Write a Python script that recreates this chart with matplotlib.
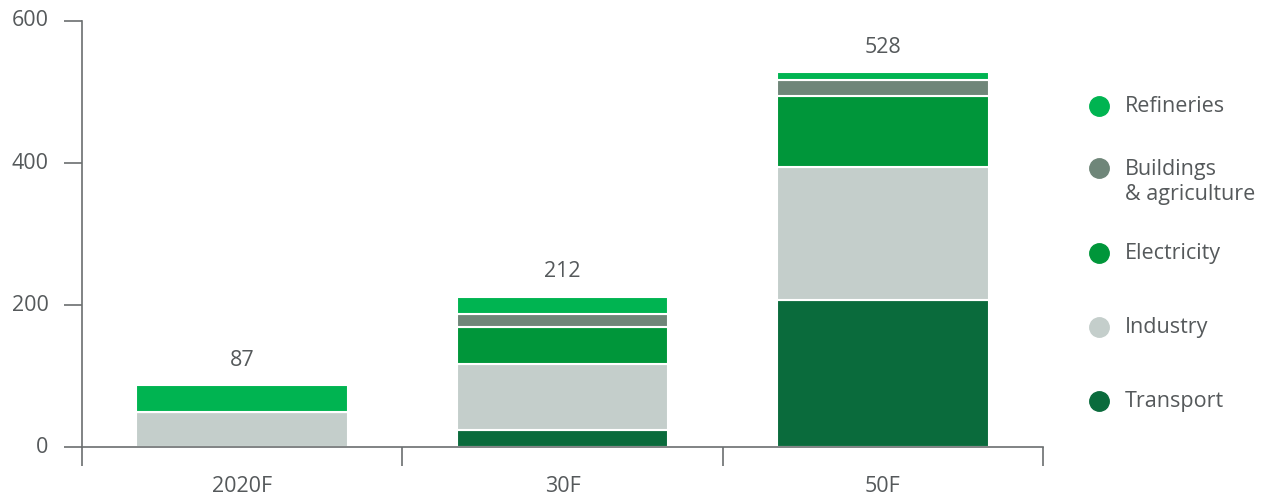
import matplotlib
matplotlib.use("Agg")
import matplotlib.pyplot as plt
import numpy as np

plt.rcParams['font.family'] = ['Open Sans', 'DejaVu Sans']

categories = ["2020F", "30F", "50F"]
series_names = ["Transport", "Industry", "Electricity", "Buildings\n& agriculture", "Refineries"]
transport = [0, 24, 207]
industry = [50, 93, 187]
electricity = [0, 53, 101]
buildings = [0, 17, 22]
refineries = [37, 25, 11]
totals = [87, 212, 528]
colors = ["#0a6b3c", "#c4cecb", "#00963a", "#6f8679", "#00b451"]
yticks = [0, 200, 400, 600]

text_color = "#55595b"
axis_color = "#6b6e70"
FS = 15.5

fig = plt.figure(figsize=(12.68, 4.97), dpi=100)
ax = fig.add_axes([82/1268, 1-447.3/497, (1043-82)/1268, (447.3-21)/497])

x = np.arange(len(categories))
series = [transport, industry, electricity, buildings, refineries]
bottom = np.zeros(len(categories))
for vals, col in zip(series, colors):
    v = np.array(vals, dtype=float)
    ax.bar(x, v, bottom=bottom, width=0.66, color=col, edgecolor="white", linewidth=1.5)
    bottom += v

for xi, t in zip(x, totals):
    ax.annotate(str(t), (xi, t), xytext=(0, 18), textcoords="offset points",
                ha="center", va="center", fontsize=FS, color=text_color)

ax.set_xlim(-0.5, len(categories) - 0.5)
ax.set_ylim(0, 600)
ax.set_yticks(yticks)
ax.set_yticklabels([str(v) for v in yticks])
ax.set_xticks(x)
ax.set_xticklabels(categories)
ax.set_xticks(np.arange(len(categories) + 1) - 0.5, minor=True)

for s in ["top", "right"]:
    ax.spines[s].set_visible(False)
for s in ["left", "bottom"]:
    ax.spines[s].set_color(axis_color)
    ax.spines[s].set_linewidth(1.2)

ax.tick_params(axis="y", length=13, width=1.2, color=axis_color, labelsize=FS,
               labelcolor=text_color, pad=11)
ax.tick_params(axis="x", which="major", length=0, labelsize=FS, labelcolor=text_color, pad=21)
ax.tick_params(axis="x", which="minor", length=13.5, width=1.2, color=axis_color)
for lbl in ax.get_yticklabels():
    lbl.set_verticalalignment("center")

# Legend (manual, top to bottom)
legend_order = [4, 3, 2, 1, 0]
legend_y = [106, 168, 253, 327, 401]
for idx, yp in zip(legend_order, legend_y):
    fy = 1 - yp / 497
    fig.lines.append(plt.Line2D([1099/1268], [fy], marker="o", markersize=14,
                                color=colors[idx], linestyle="none",
                                transform=fig.transFigure))
    name = series_names[idx]
    if "\n" in name:
        fig.text(1125/1268, 1 - (yp - 9) / 497, name, ha="left", va="top",
                 fontsize=FS, color=text_color, linespacing=1.25)
    else:
        fig.text(1125/1268, fy, name, ha="left", va="center",
                 fontsize=FS, color=text_color)

fig.savefig("out.png", dpi=100)
